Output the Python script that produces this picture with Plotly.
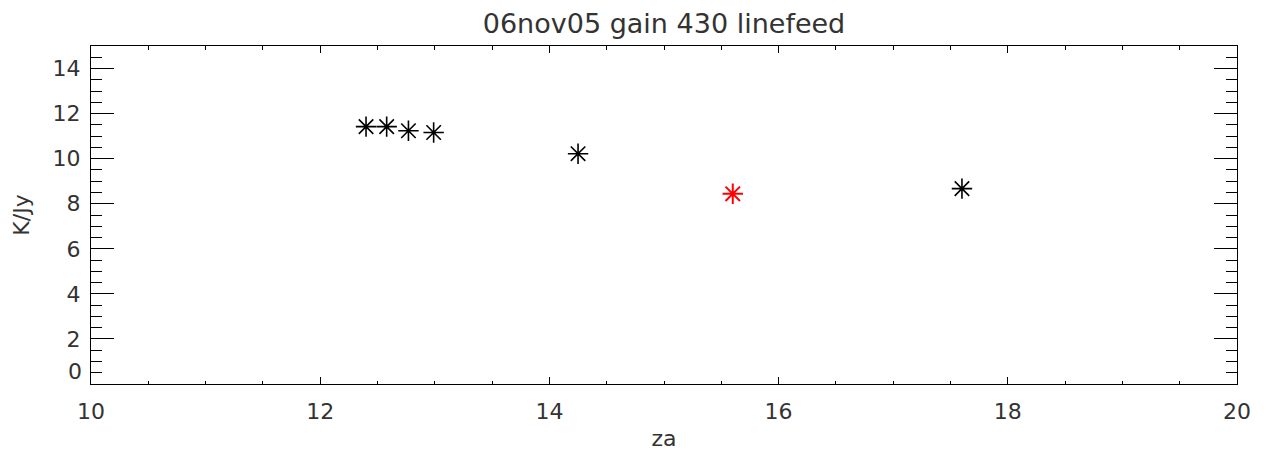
import plotly.graph_objects as go

za = [12.40, 12.58, 12.77, 12.99, 14.25, 17.60]
kjy = [11.42, 11.42, 11.24, 11.16, 10.22, 8.67]
za_red = [15.60]
kjy_red = [8.44]

x_ticks = [10, 12, 14, 16, 18, 20]
y_ticks = [2, 4, 6, 8, 10, 12, 14]
y_zero_label = "0"

title = "06nov05 gain 430 linefeed"
FONT = "DejaVu Sans"
TXT = "#333"

fig = go.Figure()
fig.add_trace(go.Scatter(x=za, y=kjy, mode="markers",
                         marker=dict(symbol="asterisk-open", size=17, color="black",
                                     line=dict(color="black", width=1.6)),
                         showlegend=False))
fig.add_trace(go.Scatter(x=za_red, y=kjy_red, mode="markers",
                         marker=dict(symbol="asterisk-open", size=17, color="red",
                                     line=dict(color="red", width=2)),
                         showlegend=False))

axis_common = dict(showgrid=False, zeroline=False, showline=True, automargin=False,
                   linecolor="black", linewidth=1, mirror="ticks",
                   ticks="inside", tickcolor="black", tickwidth=1,
                   tickfont=dict(family=FONT, size=22, color=TXT))

fig.update_xaxes(range=[10, 20], tickvals=x_ticks, ticktext=[str(v) for v in x_ticks],
                 ticklen=7, ticklabelstandoff=8,
                 minor=dict(dtick=0.5, ticks="inside", ticklen=3.5, tickcolor="black"),
                 title=dict(text="za", font=dict(family=FONT, size=22, color=TXT),
                            standoff=10),
                 **axis_common)
fig.update_yaxes(range=[0, 15], tickvals=y_ticks, ticktext=[str(v) for v in y_ticks],
                 ticklen=23, ticklabelstandoff=5,
                 minor=dict(dtick=0.5, ticks="inside", ticklen=11, tickcolor="black"),
                 title=dict(text="K/Jy", font=dict(family=FONT, size=22, color=TXT),
                            standoff=16),
                 **axis_common)

fig.add_annotation(x=0, xref="paper", xanchor="right", xshift=-7,
                   y=0, yref="y", yanchor="bottom", yshift=-2,
                   text=y_zero_label, showarrow=False,
                   font=dict(family=FONT, size=22, color=TXT))

# page body has an 8px margin: figure is sized/positioned to compensate
fig.update_layout(width=1251, height=443,
                  margin=dict(l=83, r=22, t=38, b=67, autoexpand=False),
                  paper_bgcolor="white", plot_bgcolor="white",
                  title=dict(text=title, x=0.5, xref="paper", xanchor="center",
                             y=0.5, yref="container", yanchor="middle",
                             automargin=False,
                             font=dict(family=FONT, size=27, color=TXT)))
fig.update_layout(title_y=1 - 16 / 443)

fig.write_html("out.html")
